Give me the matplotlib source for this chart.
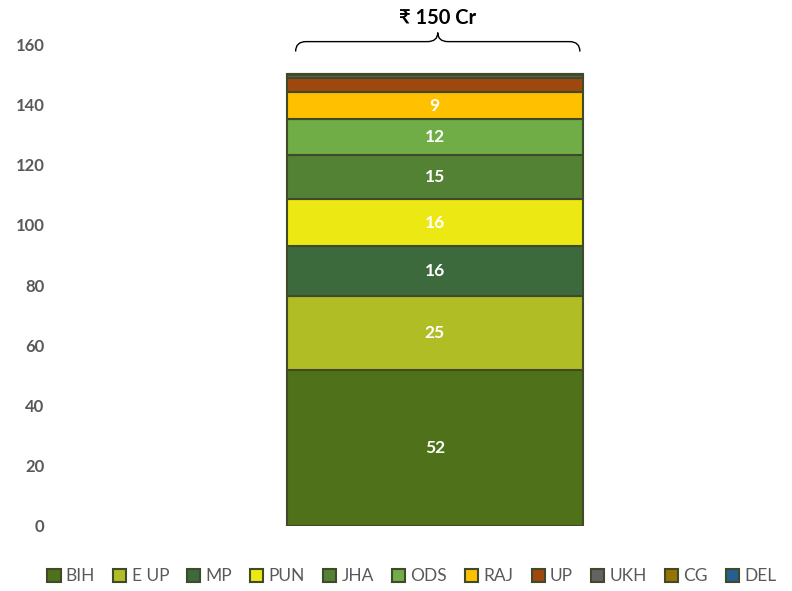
import matplotlib.pyplot as plt
from matplotlib.path import Path
from matplotlib.patches import PathPatch

plt.rcParams['font.family'] = ['Lato', 'DejaVu Sans']

states = ['BIH', 'E UP', 'MP', 'PUN', 'JHA', 'ODS', 'RAJ', 'UP', 'UKH', 'CG', 'DEL']
values = [51.8, 24.6, 16.4, 15.6, 14.6, 12.0, 9.0, 4.6, 1.2, 0.1, 0.1]
colors = ['#4e7119', '#b0bd24', '#3c6a3c', '#ece813', '#548235', '#70ad47',
          '#ffc000', '#9e480e', '#636363', '#997300', '#255e91']
total_label = '₹ 150 Cr'

fig = plt.figure(figsize=(7.92, 5.91), dpi=100)
ax = fig.add_axes([0.07, 0.11, 0.90, 0.8155])

bottom = 0
handles = []
for name, v, c in zip(states, values, colors):
    b = ax.bar(0, v, width=1.0, bottom=bottom, color=c, edgecolor='#3f4a2a',
               linewidth=1.5, label=name)
    handles.append(b)
    if v >= 8:
        ax.text(0, bottom + v / 2, f'{v:.0f}', ha='center', va='center',
                color='white', fontsize=12.5, fontweight='bold')
    bottom += v

ax.set_xlim(-1.281, 1.126)
ax.set_ylim(0, 160)
ax.set_yticks(range(0, 161, 20))
ax.tick_params(axis='y', length=0, labelsize=12, labelcolor='#595959', pad=8)
for lab in ax.get_yticklabels():
    lab.set_fontweight('bold')
ax.set_xticks([])
for s in ax.spines.values():
    s.set_visible(False)

# curly brace over the bar
x0, x1 = -0.47, 0.49
xc = (x0 + x1) / 2
yb, yl, yt = 157.5, 160.8, 163.8
dx = 0.035
verts = [(x0, yb), (x0, yl), (x0 + dx, yl),
         (xc - dx, yl), (xc, yl), (xc, yt),
         (xc, yl), (xc + dx, yl),
         (x1 - dx, yl), (x1, yl), (x1, yb)]
codes = [Path.MOVETO, Path.CURVE3, Path.CURVE3,
         Path.LINETO, Path.CURVE3, Path.CURVE3,
         Path.CURVE3, Path.CURVE3,
         Path.LINETO, Path.CURVE3, Path.CURVE3]
ax.add_patch(PathPatch(Path(verts, codes), fill=False, edgecolor='black',
                       linewidth=1.0, clip_on=False))
ax.text(xc, 168.8, total_label, ha='center', va='center', fontsize=14.5,
        fontweight='bold', color='black', clip_on=False)

leg = fig.legend(handles=handles, labels=states, loc='lower center',
                 bbox_to_anchor=(0.52, -0.015), ncol=11, frameon=False,
                 handlelength=0.75, handleheight=0.75, handletextpad=0.3,
                 columnspacing=1.05, fontsize=12.5)
for t in leg.get_texts():
    t.set_color('#595959')

fig.savefig('out.png', dpi=100)
